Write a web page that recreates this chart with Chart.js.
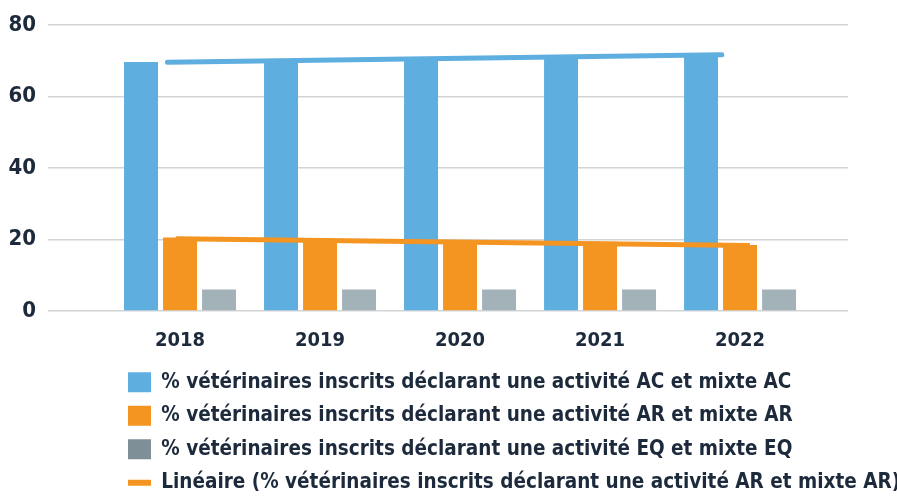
<!DOCTYPE html>
<html>
<head>
<meta charset="utf-8">
<script src="https://cdn.jsdelivr.net/npm/chart.js@4"></script>
<style>
  html, body { margin: 0; padding: 0; background: #fff; }
  #wrap { width: 897px; height: 498px; }
</style>
</head>
<body>
<div id="wrap"><canvas id="chart" width="897" height="498"></canvas></div>
<script>
// values
var years = [2018, 2019, 2020, 2021, 2022];
var acValues = [69.7, 69.9, 70.2, 71.0, 71.8];
var arValues = [20.6, 20.0, 19.2, 19.4, 18.5];
var eqValues = [6.0, 6.0, 6.0, 6.0, 6.0];

// trend lines (start / end as drawn in the source)
var acTrendX = [2017.91, 2021.87];
var acTrendY = [69.6, 71.7];
var arTrendX = [2017.97, 2022.07];
var arTrendY = [20.2, 18.3];

var yTicks = [0, 20, 40, 60, 80];

var labelAC = '% vétérinaires inscrits déclarant une activité AC et mixte AC';
var labelAR = '% vétérinaires inscrits déclarant une activité AR et mixte AR';
var labelEQ = '% vétérinaires inscrits déclarant une activité EQ et mixte EQ';
var labelTrend = 'Linéaire (% vétérinaires inscrits déclarant une activité AR et mixte AR)';

var BLUE = '#5eaee0';
var ORANGE = '#f49421';
var GRAY = '#a3b1b8';
var GRAY_KEY = '#7f8f98';
var INK = '#1c2a3c';
var FONT = "'Liberation Sans Narrow', 'DejaVu Sans Condensed', 'Liberation Sans', sans-serif";

function points(xs, ys) {
  return xs.map(function (x, i) { return { x: x, y: ys[i] }; });
}

// legend sits left-aligned under the plot, not at the canvas edge
var legendShift = {
  id: 'legendShift',
  afterLayout: function (chart) {
    var lg = chart.legend;
    if (!lg) return;
    lg.left = 115;
    lg.right = 897;
    lg.width = lg.right - lg.left;
    lg.top = 359;
  }
};

new Chart(document.getElementById('chart'), {
  type: 'bar',
  data: {
    datasets: [
      { label: labelAC, data: points(years, acValues), backgroundColor: BLUE, pointStyle: 'rect', order: 1 },
      { label: labelAR, data: points(years, arValues), backgroundColor: ORANGE, pointStyle: 'rect', order: 1 },
      { label: labelEQ, data: points(years, eqValues), backgroundColor: GRAY, pointStyle: 'rect', order: 1 },
      { type: 'line', label: labelTrend, data: points(arTrendX, arTrendY), borderColor: ORANGE, backgroundColor: ORANGE,
        borderWidth: 5, pointRadius: 0, pointStyle: 'line', tension: 0, order: 0 },
      { type: 'line', label: 'trend AC', data: points(acTrendX, acTrendY), borderColor: BLUE, backgroundColor: BLUE,
        borderWidth: 5, borderCapStyle: 'round', pointRadius: 0, tension: 0, order: 0 }
    ]
  },
  options: {
    responsive: false,
    animation: false,
    layout: { padding: { top: 23, left: 0, right: 49, bottom: 0 } },
    datasets: {
      bar: { categoryPercentage: 0.836, barPercentage: 0.87 }
    },
    scales: {
      x: {
        type: 'linear',
        offset: false,
        min: 2017.057,
        max: 2022.771,
        grid: { display: false },
        border: { display: false },
        afterFit: function (s) { s.height = 43; },
        ticks: {
          stepSize: 1,
          includeBounds: false,
          padding: 10,
          color: INK,
          font: { family: FONT, size: 20, weight: 'bold' },
          callback: function (v) { return years.indexOf(v) >= 0 ? String(v) : ''; }
        }
      },
      y: {
        min: 0,
        max: 80,
        afterFit: function (s) { s.width = 48; },
        afterBuildTicks: function (s) { s.ticks = yTicks.map(function (v) { return { value: v }; }); },
        grid: { color: '#d2d4d6', lineWidth: 1.6, drawTicks: false },
        border: { display: false },
        ticks: {
          padding: 12,
          color: INK,
          font: { family: FONT, size: 22, weight: 'bold' }
        }
      }
    },
    plugins: {
      tooltip: { enabled: false },
      legend: {
        position: 'bottom',
        align: 'start',
        labels: {
          usePointStyle: true,
          pointStyleWidth: 23,
          boxHeight: 20,
          padding: 13,
          color: INK,
          font: { family: FONT, size: 20.5, weight: 'bold' },
          filter: function (item) { return item.text !== 'trend AC'; },
          sort: function (a, b) { return a.datasetIndex - b.datasetIndex; },
          generateLabels: function (chart) {
            var items = Chart.defaults.plugins.legend.labels.generateLabels(chart);
            items.forEach(function (it) {
              if (it.datasetIndex === 2) it.fillStyle = GRAY_KEY;
              if (it.datasetIndex === 3) it.lineWidth = 6;
            });
            return items;
          }
        }
      }
    }
  },
  plugins: [legendShift]
});
</script>
</body>
</html>
